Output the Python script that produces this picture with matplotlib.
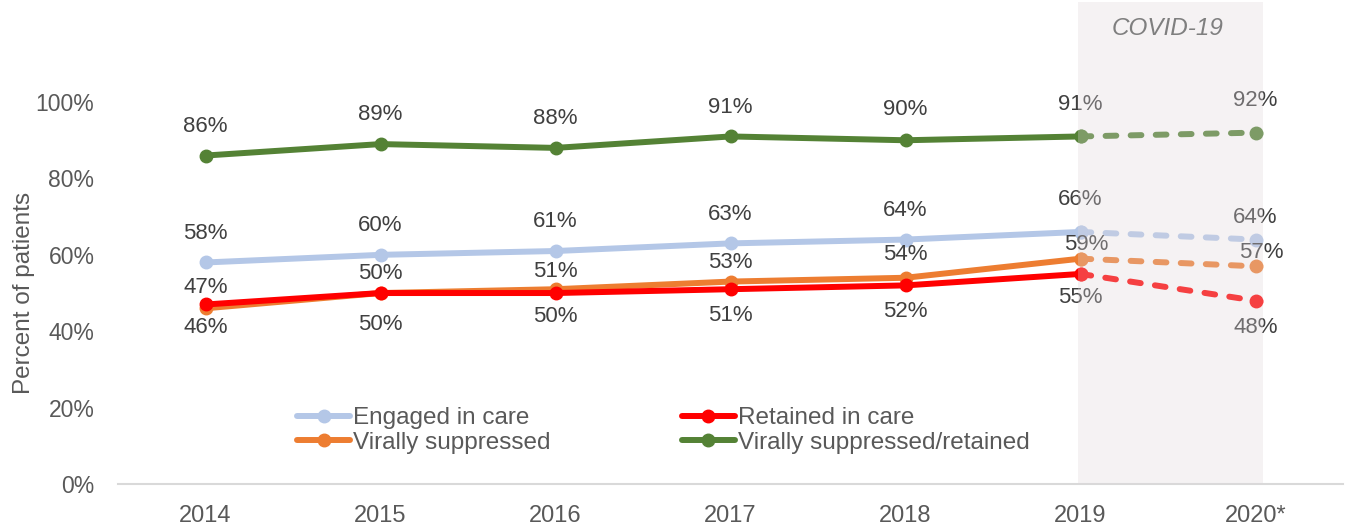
import matplotlib
matplotlib.use("Agg")
import matplotlib.pyplot as plt

plt.rcParams['font.family'] = ['Liberation Sans', 'DejaVu Sans']

years = ["2014", "2015", "2016", "2017", "2018", "2019", "2020*"]
engaged = [58, 60, 61, 63, 64, 66, 64]
retained = [47, 50, 50, 51, 52, 55, 48]
suppressed = [46, 50, 51, 53, 54, 59, 57]
suppressed_retained = [86, 89, 88, 91, 90, 91, 92]

series = [
    ("Engaged in care", engaged, "#B4C7E7"),
    ("Virally suppressed", suppressed, "#ED7D31"),
    ("Retained in care", retained, "#FF0000"),
    ("Virally suppressed/retained", suppressed_retained, "#548235"),
]

# label offsets in points (dx, dy) per series
label_offsets = {
    "Engaged in care": [(0, 21)] * 5 + [(0, 23), (0, 16)],
    "Virally suppressed": [(0, -14), (0, 14), (0, 13), (0, 14), (0, 17), (4, 10), (4, 10)],
    "Retained in care": [(0, 12), (0, -23), (0, -17), (0, -19), (0, -19), (0, -17), (0, -19)],
    "Virally suppressed/retained": [(0, 21)] * 4 + [(0, 22), (0, 23), (0, 23)],
}

fig = plt.figure(figsize=(13.51, 5.26), dpi=100)
ax = fig.add_axes([118 / 1351, 42 / 526, (1343 - 118) / 1351, 482 / 526])

x = list(range(len(years)))
lw = 4.3
ms = 9
for name, vals, col in series:
    ax.plot(x[:6], vals[:6], color=col, lw=lw, marker="o", ms=ms,
            solid_capstyle="round", zorder=4, label=name)
    ax.plot(x[5:], vals[5:], color=col, lw=lw, marker="o", ms=ms,
            linestyle=(0, (1.8, 2.4)), dash_capstyle="round", zorder=4)
    for i, v in enumerate(vals):
        dx, dy = label_offsets[name][i]
        ax.annotate(f"{v}%", (i, v), xytext=(dx, dy), textcoords="offset points",
                    ha="center", va="center", fontsize=16, color="#404040", zorder=5)

# translucent COVID-19 period overlay
ax.axvspan(4.985, 6.045, ymin=0, ymax=1, facecolor=(0.87, 0.84, 0.855), alpha=0.3,
           lw=0, zorder=10)
ax.text(5.5, 119.3, "COVID-19", ha="center", va="center", fontsize=17.5,
        style="italic", color="#7F7F7F", zorder=11)

ax.set_xlim(-0.5, 6.5)
ax.set_ylim(0, 126.2)
ax.set_xticks(x)
ax.set_xticklabels(years)
ax.set_yticks(range(0, 101, 20))
ax.set_yticklabels([f"{t}%" for t in range(0, 101, 20)])
ax.tick_params(axis="y", length=0, labelsize=16.5, colors="#595959", pad=17)
ax.tick_params(axis="x", length=0, labelsize=17, colors="#595959", pad=15)
for s in ["top", "right", "left"]:
    ax.spines[s].set_visible(False)
ax.spines["bottom"].set_color("#D9D9D9")
ax.spines["bottom"].set_linewidth(1.5)
ax.set_ylabel("Percent of patients", fontsize=17.5, color="#595959")
ax.yaxis.set_label_coords(-0.068, 50 / 126.2)

leg = ax.legend(ncol=2, loc="upper left", bbox_to_anchor=(297 / 1351, 1 - 407 / 526),
                bbox_transform=fig.transFigure, frameon=False, fontsize=17.5,
                handlelength=2.2, handletextpad=0.1, columnspacing=5.4,
                labelspacing=0.12, borderpad=0, borderaxespad=0)
for t in leg.get_texts():
    t.set_color("#595959")

fig.savefig("out.png", dpi=100, facecolor="white")
